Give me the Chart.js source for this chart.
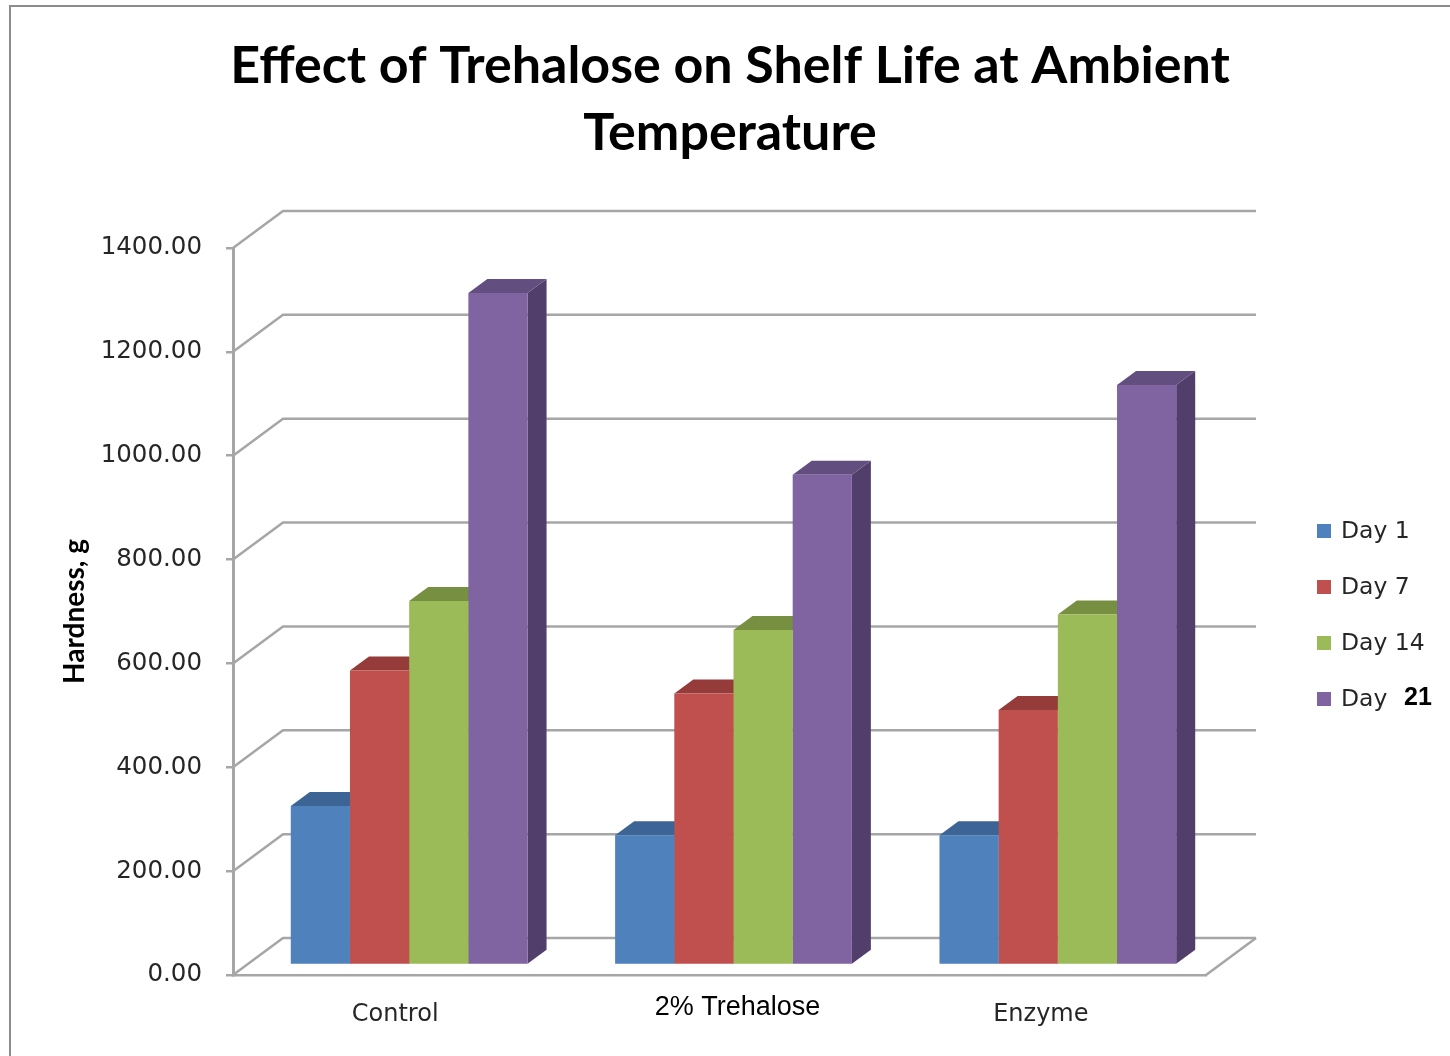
<!DOCTYPE html>
<html>
<head>
<meta charset="utf-8">
<style>
html,body{margin:0;padding:0;background:#fff;}
#wrap{width:1450px;height:1056px;position:relative;}
</style>
<script src="https://cdn.jsdelivr.net/npm/chart.js@4.4.0/dist/chart.umd.min.js"></script>
</head>
<body>
<div id="wrap"><canvas id="c" width="1450" height="1056"></canvas></div>
<script>
// ---- data ----
const categories = ['Control', '2% Trehalose', 'Enzyme'];
const seriesNames = ['Day 1', 'Day 7', 'Day 14', 'Day 21'];
const day1  = [306, 250, 250];
const day7  = [567, 523, 491];
const day14 = [701, 645, 675];
const day21 = [1294, 944, 1117];
const yTickValues = [0, 200, 400, 600, 800, 1000, 1200, 1400];
const titleLines = ['Effect of Trehalose on Shelf Life at Ambient', 'Temperature'];
const yTitle = 'Hardness, g';

// ---- styles ----
const frontColors = ['#4F81BD', '#C0504D', '#9BBB59', '#8064A2'];
const topColors   = ['#3C6595', '#953B39', '#768F40', '#634E80'];
const sideColors  = ['#30527A', '#7A302E', '#5F7434', '#523E6A'];
const WALL = {dx: 50, dy: -37};
const SHIFT = {dx: 14, dy: -10};
const DEPTH = {dx: 19, dy: -14};
const GRID_COLOR = '#a6a6a6';
const catLabelDX = [0, 18, -3];
const catLabelDY = [40, 33, 40];
const catLabelFont = ['24px "DejaVu Sans"', '27px "Liberation Sans"', '24px "DejaVu Sans"'];
const catLabelColor = ['#262626', '#000', '#262626'];

const seriesValues = [day1, day7, day14, day21];

const wall3d = {
  id: 'wall3d',
  beforeDraw(chart) {
    const ctx = chart.ctx;
    ctx.save();
    ctx.fillStyle = '#fff';
    ctx.fillRect(0, 0, chart.width, chart.height);
    ctx.strokeStyle = '#8c8c8c';
    ctx.lineWidth = 2;
    ctx.beginPath();
    ctx.moveTo(10, chart.height + 5);
    ctx.lineTo(10, 6);
    ctx.lineTo(chart.width + 5, 6);
    ctx.stroke();
    ctx.restore();
  },
  beforeDatasetsDraw(chart) {
    const ctx = chart.ctx;
    const a = chart.chartArea;
    const y = chart.scales.y;
    ctx.save();
    ctx.strokeStyle = GRID_COLOR;
    ctx.lineWidth = 2.5;
    ctx.lineJoin = 'round';
    y.ticks.forEach(t => {
      const py = y.getPixelForValue(t.value);
      ctx.beginPath();
      ctx.moveTo(a.left, py);
      ctx.lineTo(a.left + WALL.dx, py + WALL.dy);
      ctx.lineTo(a.right + WALL.dx, py + WALL.dy);
      ctx.stroke();
    });
    const p0 = y.getPixelForValue(0);
    ctx.beginPath();
    ctx.moveTo(a.right, p0);
    ctx.lineTo(a.right + WALL.dx, p0 + WALL.dy);
    ctx.stroke();
    ctx.restore();

    ctx.save();
    ctx.translate(SHIFT.dx, SHIFT.dy);
    chart.data.datasets.forEach((ds, i) => {
      const meta = chart.getDatasetMeta(i);
      meta.data.forEach(el => {
        const p = el.getProps(['x', 'y', 'base', 'width'], true);
        const l = p.x - p.width / 2, r = p.x + p.width / 2;
        const top = p.y, bot = p.base;
        ctx.fillStyle = sideColors[i];
        ctx.beginPath();
        ctx.moveTo(r, top);
        ctx.lineTo(r + DEPTH.dx, top + DEPTH.dy);
        ctx.lineTo(r + DEPTH.dx, bot + DEPTH.dy);
        ctx.lineTo(r, bot);
        ctx.closePath();
        ctx.fill();
        ctx.fillStyle = topColors[i];
        ctx.beginPath();
        ctx.moveTo(l, top);
        ctx.lineTo(r, top);
        ctx.lineTo(r + DEPTH.dx, top + DEPTH.dy);
        ctx.lineTo(l + DEPTH.dx, top + DEPTH.dy);
        ctx.closePath();
        ctx.fill();
      });
    });
  },
  afterDatasetsDraw(chart) {
    chart.ctx.restore();
  }
};

const labelsAndLegend = {
  id: 'labelsAndLegend',
  afterDraw(chart) {
    const ctx = chart.ctx;
    const x = chart.scales.x;
    const a = chart.chartArea;
    ctx.save();
    ctx.textBaseline = 'middle';
    ctx.textAlign = 'center';
    chart.data.labels.forEach((lab, i) => {
      ctx.font = catLabelFont[i];
      ctx.fillStyle = catLabelColor[i];
      ctx.fillText(lab, x.getPixelForValue(i) + catLabelDX[i], a.bottom + catLabelDY[i]);
    });
    ctx.textAlign = 'left';
    chart.data.datasets.forEach((ds, i) => {
      const cy = 531 + i * 56;
      ctx.fillStyle = ds.backgroundColor;
      ctx.fillRect(1317, cy - 7, 14, 14);
      ctx.fillStyle = '#262626';
      const parts = ds.label.split(' ');
      ctx.font = '23.5px "DejaVu Sans"';
      if (i === chart.data.datasets.length - 1) {
        ctx.fillText(parts[0], 1341, cy + 1);
        ctx.fillStyle = '#000';
        ctx.font = 'bold 25px "Liberation Sans"';
        ctx.fillText(parts[1], 1404, cy - 1);
      } else {
        ctx.fillText(ds.label, 1341, cy + 1);
      }
    });
    ctx.restore();
  }
};

new Chart(document.getElementById('c'), {
  type: 'bar',
  data: {
    labels: categories,
    datasets: seriesNames.map((n, i) => ({
      label: n,
      data: seriesValues[i],
      backgroundColor: frontColors[i],
      borderWidth: 0,
      categoryPercentage: 0.73,
      barPercentage: 1.0
    }))
  },
  options: {
    responsive: false,
    animation: false,
    devicePixelRatio: 1,
    layout: {padding: {left: 10, right: 0, top: 0, bottom: 0}},
    plugins: {
      legend: {display: false},
      tooltip: {enabled: false},
      title: {
        display: true,
        text: titleLines,
        color: '#000',
        font: {family: 'Lato', weight: 'bold', size: 52, lineHeight: 67 / 52},
        padding: {top: 33, bottom: 81}
      }
    },
    scales: {
      x: {
        grid: {display: false},
        border: {display: true, color: GRID_COLOR, width: 2.5},
        ticks: {display: false},
        afterFit: s => { s.height = 81; }
      },
      y: {
        min: 0, max: 1400,
        afterBuildTicks: s => { s.ticks = yTickValues.map(v => ({value: v})); },
        grid: {drawOnChartArea: false, drawTicks: true, tickLength: 7, color: GRID_COLOR, lineWidth: 2.5},
        border: {display: true, color: GRID_COLOR, width: 3},
        ticks: {
          padding: 24,
          color: '#262626',
          font: {family: 'DejaVu Sans', size: 24.5},
          callback: v => Number(v).toFixed(2)
        },
        title: {
          display: true,
          text: yTitle,
          color: '#000',
          font: {family: 'Lato', weight: 'bold', size: 28},
          padding: {top: 48, bottom: 0}
        },
        afterFit: s => { s.width = 223; }
      },
      ySpacer: {
        type: 'linear',
        position: 'right',
        display: true,
        grid: {display: false},
        border: {display: false},
        ticks: {display: false},
        afterFit: s => { s.width = 244; }
      }
    }
  },
  plugins: [wall3d, labelsAndLegend]
});
</script>
</body>
</html>
